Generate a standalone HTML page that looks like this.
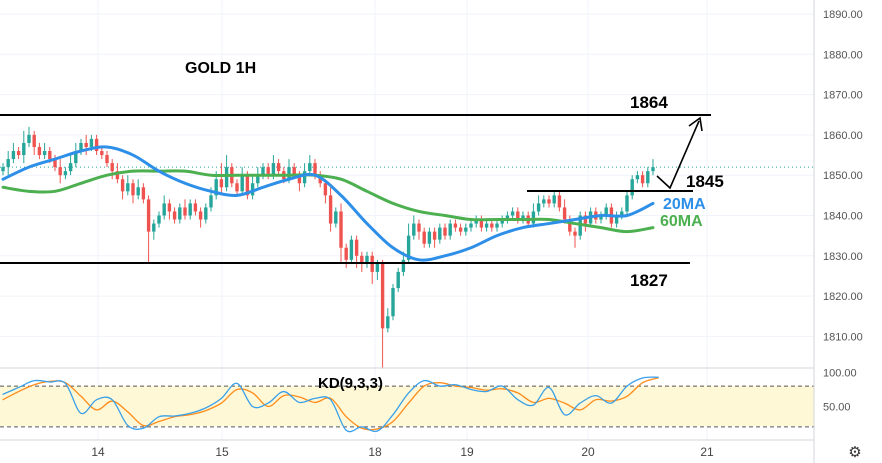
<!DOCTYPE html>
<html><head><meta charset="utf-8"><style>
html,body{margin:0;padding:0;background:#fff;width:882px;height:463px;overflow:hidden}
svg{display:block;font-family:"Liberation Sans",sans-serif}
</style></head><body>
<svg id="c" width="882" height="463">
<g id="grid"></g>
<rect x="0" y="386" width="814" height="40" fill="#fff8d6"/>
<g id="marks"></g>
<g id="axes"></g>
<g>
<line x1="0" y1="115" x2="711" y2="115" stroke="#000" stroke-width="2"/>
<line x1="0" y1="263" x2="690" y2="263" stroke="#000" stroke-width="2"/>
<line x1="527" y1="191" x2="693" y2="191" stroke="#000" stroke-width="2"/>
<polyline points="657,176 670,188 699,121" fill="none" stroke="#000" stroke-width="1.6"/>
<polyline points="689,126 700,118 702,131" fill="none" stroke="#000" stroke-width="1.6"/>
<text x="630" y="108" font-size="17" font-weight="bold">1864</text>
<text x="686" y="187" font-size="17" font-weight="bold">1845</text>
<text x="663" y="209" font-size="16" font-weight="bold" fill="#2d8fe8">20MA</text>
<text x="660" y="226" font-size="16" font-weight="bold" fill="#4caf50">60MA</text>
<text x="630" y="286" font-size="17" font-weight="bold">1827</text>
<text x="185" y="73" font-size="16" font-weight="bold">GOLD 1H</text>
<text x="318" y="388" font-size="15" font-weight="bold">KD(9,3,3)</text>
</g>
</svg>
<script>
const closes=[1852,1854,1856,1855,1858,1860,1857,1855,1856,1854,
1852,1850,1851,1853,1856,1858,1857,1859,1856,1855,
1853,1851,1849,1846,1848,1845,1847,1844,1836,1838,
1840,1843,1841,1839,1842,1840,1843,1841,1839,1842,
1845,1849,1847,1852,1848,1846,1850,1845,1848,1850,
1852,1850,1853,1851,1849,1852,1850,1848,1851,1853,
1850,1848,1845,1838,1841,1832,1829,1834,1830,1828,
1830,1826,1828,1812,1815,1822,1826,1829,1835,1838,
1836,1833,1836,1834,1837,1835,1838,1837,1836,1837,
1838,1839,1837,1838,1837,1838,1839,1840,1841,1839,
1840,1838,1841,1843,1844,1843,1845,1842,1839,1836,
1835,1840,1838,1841,1839,1840,1842,1838,1840,1841,
1845,1849,1850,1848,1851,1852];
const wickUp=[1,2,2,1,3,2,1,1,2,1, 1,2,1,2,2,1,2,1,1,1, 1,1,2,1,2,1,2,1,1,1, 1,2,1,1,1,2,1,1,1,1, 2,2,4,3,1,1,2,1,2,2, 1,1,2,1,1,2,1,1,2,2, 1,1,1,2,1,2,1,1,1,1, 1,1,1,1,2,1,1,2,3,2, 1,1,1,1,1,1,1,1,1,1, 1,1,1,1,1,1,1,1,1,1, 1,1,2,2,1,1,1,1,2,1, 1,1,1,1,1,1,1,1,1,1, 1,1,1,1,1,2];
const wickDn=[1,2,1,1,2,1,2,1,1,1, 1,2,1,1,1,1,2,1,1,1, 1,2,1,2,1,2,1,1,8,2, 1,1,2,1,1,1,1,1,2,1, 1,1,2,1,1,1,1,1,1,1, 1,1,1,1,1,1,1,2,1,1, 1,1,2,2,1,4,2,1,3,2, 1,3,2,10,1,1,1,1,1,1, 2,1,1,2,1,1,1,1,1,1, 1,1,1,1,1,1,1,1,1,1, 1,1,1,1,1,1,1,1,1,1, 3,1,2,1,1,1,1,1,1,1, 1,1,1,1,1,1];
const ma20=[1849,1852,1854,1856,1857,1855,1851,1848,1846,1845,1847,1849,1850,1845,1838,1832,1829,1830,1832,1835,1837,1838,1839,1840,1840,1843];
const ma60=[1847,1846,1846,1848,1850,1851,1851,1851,1850,1850,1850,1850,1850,1849,1846,1843,1841,1840,1839,1839,1839,1839,1838,1837,1836,1837];
const kLine=[68,78,88,86,84,40,60,60,22,18,35,36,40,48,62,84,50,55,72,56,62,60,15,20,14,38,70,88,80,82,75,72,80,60,52,78,38,55,66,55,80,92,93];
const dLine=[60,72,82,87,85,65,45,58,42,22,28,35,38,44,55,75,70,50,66,64,56,62,35,18,17,28,55,80,85,80,78,74,76,70,56,62,55,45,60,58,65,85,92];
const priceTicks=[1890,1880,1870,1860,1850,1840,1830,1820,1810];
const kdTicks=[100,50];
const dayLabels=["14","15","18","19","20","21"];
const dayX=[98,222,375,467,588,707];
const lastPrice=1852;

const NS="http://www.w3.org/2000/svg";
const step=5.2, x0=3;
const xC=i=>x0+i*step;
const yP=p=>14+(1890-p)*4.03;
const yK=v=>440.5-v*0.68;
function mk(tag,attrs,parent){const e=document.createElementNS(NS,tag);for(const k in attrs)e.setAttribute(k,attrs[k]);parent.appendChild(e);return e;}
const grid=document.getElementById('grid'),marks=document.getElementById('marks'),axes=document.getElementById('axes');

priceTicks.forEach(p=>{const l=mk('line',{x1:0,x2:814,y1:yP(p),y2:yP(p),stroke:'#f0f3fa'},grid);

});
dayX.forEach(x=>{const l=mk('line',{x1:x,x2:x,y1:0,y2:440,stroke:'#f0f3fa'},grid);

});

const dl=mk('line',{x1:0,x2:814,y1:yP(lastPrice),y2:yP(lastPrice),stroke:'#26a69a','stroke-dasharray':'1 3'},marks);



closes.forEach((c,i)=>{const o=i?closes[i-1]:c-1;const up=c>=o;const col=up?'#26a69a':'#ef5350';
const hi=Math.max(o,c)+wickUp[i],lo=Math.min(o,c)-wickDn[i];const x=xC(i);
const g=mk('g',{},marks);


mk('line',{x1:x,x2:x,y1:yP(hi),y2:yP(lo),stroke:col,'stroke-width':1},g);
const t=yP(Math.max(o,c)),b=yP(Math.min(o,c));
mk('rect',{x:x-1.7,y:t,width:3.4,height:Math.max(1,b-t),fill:col},g);});

function smoothPath(pts){let d='M'+pts[0][0]+','+pts[0][1];
for(let i=0;i<pts.length-1;i++){const p0=pts[i-1]||pts[i],p1=pts[i],p2=pts[i+1],p3=pts[i+2]||p2;
const c1=[p1[0]+(p2[0]-p0[0])/6,p1[1]+(p2[1]-p0[1])/6],c2=[p2[0]-(p3[0]-p1[0])/6,p2[1]-(p3[1]-p1[1])/6];
d+=' C'+c1[0]+','+c1[1]+' '+c2[0]+','+c2[1]+' '+p2[0]+','+p2[1];}return d;}
function line(arr,xf,yf,col,w,name){const pts=arr.map((v,i)=>[xf(i),yf(v)]);
const pl=mk('path',{d:smoothPath(pts),fill:'none',stroke:col,'stroke-width':w,'stroke-linejoin':'round','stroke-linecap':'round'},marks);

}
line(ma60,i=>xC(i*5),yP,'#4caf50',3,'ma60-line');
line(ma20,i=>xC(i*5),yP,'#2d8fe8',3,'ma20-line');

[80,20].forEach(v=>{const l=mk('line',{x1:0,x2:814,y1:yK(v),y2:yK(v),stroke:'#555','stroke-dasharray':'4 3'},marks);

});
line(dLine,i=>xC(i*3),yK,'#ff8c1a',1.3,'d-line');
line(kLine,i=>xC(i*3),yK,'#3aa0e8',1.3,'k-line');

[['price-axis-border',814,0,814,463],['panel-separator',0,368,814,368],['time-axis-border',0,440,814,440]].forEach(a=>{
const l=mk('line',{x1:a[1],y1:a[2],x2:a[3],y2:a[4],stroke:'#d1d4dc'},axes);

});
priceTicks.forEach(p=>{const t=mk('text',{x:823,y:yP(p)+4,'font-size':11,fill:'#555'},axes);t.textContent=p.toFixed(2);

});
kdTicks.forEach(v=>{const t=mk('text',{x:823,y:yK(v)+4,'font-size':11,fill:'#555'},axes);t.textContent=v.toFixed(2);

});
dayLabels.forEach((d,i)=>{const t=mk('text',{x:dayX[i],y:456,'font-size':12,fill:'#444','text-anchor':'middle'},axes);t.textContent=d;

});
const gear=mk('text',{x:855,y:457,'font-size':15,fill:'#333','text-anchor':'middle'},axes);gear.textContent='⚙';


</script>
</body></html>
